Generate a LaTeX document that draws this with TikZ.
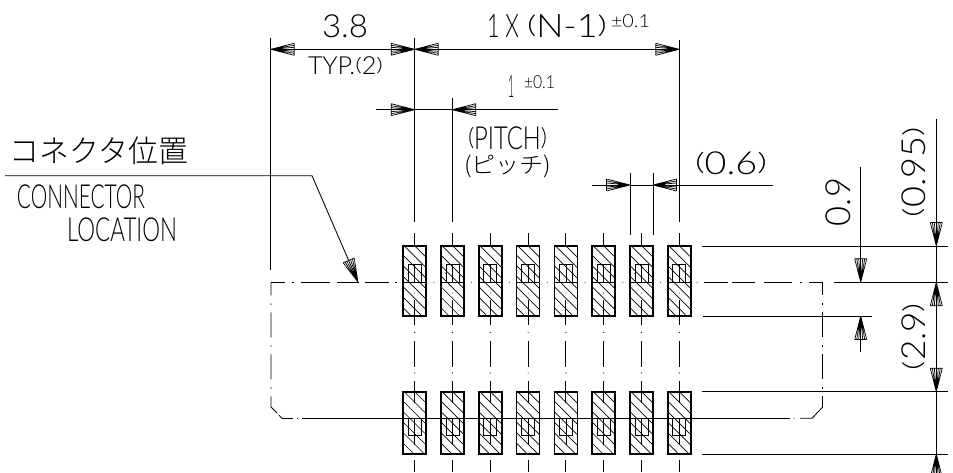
\documentclass[tikz,border=0pt]{standalone}
\usepackage{fontspec}
\usepackage{graphicx}
\usetikzlibrary{calc}
\newfontfamily\cad{Lato Light}
\newfontfamily\cadj{Noto Sans CJK JP Light}
\newcommand{\lp}{\raisebox{.135em}{\scalebox{1}[.75]{(}}}
\newcommand{\rp}{\raisebox{.135em}{\scalebox{1}[.75]{)}}}
\newcommand{\fitbox}[3]{\resizebox*{#1pt}{#2pt}{\cad\fontsize{20pt}{22pt}\selectfont #3}}
\newcommand{\fitboxj}[3]{\resizebox*{#1pt}{#2pt}{\cadj\fontsize{20pt}{22pt}\selectfont #3}}
\makeatletter
\pgfdeclarearrow{
  name=Fan,
  setup code={
    \pgfarrowssettipend{0pt}
    \pgfarrowssetlineend{-8pt}
    \pgfarrowssetvisualbackend{-23.5pt}
    \pgfarrowssetbackend{-23.5pt}
    \pgfarrowshullpoint{0pt}{0pt}
    \pgfarrowshullpoint{-23.5pt}{6pt}
    \pgfarrowshullpoint{-23.5pt}{-6pt}
  },
  drawing code={
    \pgfsetlinewidth{.7pt}
    \pgfsetdash{}{0pt}
    \pgfpathmoveto{\pgfpoint{-23.5pt}{6pt}}
    \pgfpathlineto{\pgfpoint{-23.5pt}{-6pt}}
    \pgfpathmoveto{\pgfpoint{0pt}{0pt}}\pgfpathlineto{\pgfpoint{-23.5pt}{6pt}}
    \pgfpathmoveto{\pgfpoint{0pt}{0pt}}\pgfpathlineto{\pgfpoint{-23.5pt}{4pt}}
    \pgfpathmoveto{\pgfpoint{0pt}{0pt}}\pgfpathlineto{\pgfpoint{-23.5pt}{2pt}}
    \pgfpathmoveto{\pgfpoint{0pt}{0pt}}\pgfpathlineto{\pgfpoint{-23.5pt}{-2pt}}
    \pgfpathmoveto{\pgfpoint{0pt}{0pt}}\pgfpathlineto{\pgfpoint{-23.5pt}{-4pt}}
    \pgfpathmoveto{\pgfpoint{0pt}{0pt}}\pgfpathlineto{\pgfpoint{-23.5pt}{-6pt}}
    \pgfusepathqstroke
    \pgfpathmoveto{\pgfpoint{0pt}{0pt}}
    \pgfpathlineto{\pgfpoint{-12pt}{2pt}}
    \pgfpathlineto{\pgfpoint{-12pt}{-2pt}}
    \pgfpathclose
    \pgfusepathqfill
  }
}
\makeatother
\tikzset{
  thinline/.style={line width=.85pt,black},
  midline/.style={line width=1.1pt,black},
  dim/.style={thinline,-{Fan}},
  dimboth/.style={thinline,{Fan}-{Fan}},
  padcommon/.style={draw=black,line width=1.7pt,inner sep=0pt,outer sep=0pt,minimum width=23pt,
    path picture={
      \foreach \c in {-22,-11.5,...,73}
        \draw[line width=.7pt] ($(path picture bounding box.north west)+(0,\c)$) -- +(90,90);
    }},
  padtop/.style={padcommon,minimum height=70.5pt},
  padbot/.style={padcommon,minimum height=62.6pt},
  lab/.style={inner sep=0pt,outer sep=0pt,black},
  chain/.style={thinline,dash pattern=on 25pt off 8pt on 1.5pt off 7.5pt},
}
\begin{document}
\begin{tikzpicture}[x=1pt,y=-1pt]
\clip (0,0) rectangle (953,473);
\fill[white] (0,0) rectangle (953,473);

% pads
\foreach \i in {1,...,8}{
  \pgfmathsetmacro{\cx}{414.7+37.8*(\i-1)}
  \node[padtop] (pt\i) at (\cx,281) {};
  \node[padbot] (pb\i) at (\cx,423) {};
  \draw[line width=1.2pt] (pt\i.west |- 0,282.3) -- (pt\i.east |- 0,282.3);
  \draw[line width=.8pt] (\cx-6.5,282) -- (\cx-6.5,264.5) -- (\cx+6.5,264.5) -- (\cx+6.5,282);
  \draw[line width=.8pt] (\cx,264.5) -- (\cx,282);
  \fill (\cx,293) circle (.5pt);
  \fill (\cx-7,273.5) circle (.4pt);
  \fill (\cx+7,273.5) circle (.4pt);
  \draw[line width=.8pt] (\cx-6.5,418) -- (\cx-6.5,435) -- (\cx+6.5,435) -- (\cx+6.5,418);
  \draw[line width=.8pt] (\cx,418) -- (\cx,445);
  \coordinate (sa\i) at (\cx,233);
  \coordinate (sb\i) at (\cx,300);
  \coordinate (sc\i) at (\cx,325);
  \coordinate (sd\i) at (\cx,341);
  \coordinate (se\i) at (\cx,367);
  \coordinate (sf\i) at (\cx,381);
  \coordinate (sg\i) at (\cx,403);
  \coordinate (sh\i) at (\cx,460);
  \coordinate (si\i) at (\cx,472);
  \draw[thinline] (sa\i) -- (pt\i.north);
  \draw[thinline] (sb\i) -- (sc\i);
  \draw[thinline] (sd\i) -- (se\i);
  \draw[thinline] (sf\i) -- (sg\i);
  \draw[thinline] (sh\i) -- (si\i);
  \fill (\cx,332.5) circle (.6pt);
  \fill (\cx,373) circle (.6pt);
  \pgfmathsetmacro{\gx}{396+37.8*(\i-1)}
  \fill (\gx,282.3) circle (.5pt);
}
\fill (697,282.3) circle (.5pt);

% outline of the connector (chain line)
\coordinate (tl) at (271,282.3);
\coordinate (tlend) at (397,282.3);
\coordinate (trs) at (704,282.3);
\coordinate (tr) at (822.7,282.3);
\coordinate (lb) at (271,407);
\coordinate (rb) at (822.7,407);
\coordinate (lbc) at (282,418.3);
\coordinate (rbc) at (812,418.3);
\coordinate (lba) at (277,413);
\draw[thinline,dash pattern=on 14pt off 7pt on 2pt off 7pt on 29pt off 7pt on 22pt off 6pt on 24pt off 6pt on 2pt off 100pt] (tl) -- (tlend);
\draw[thinline,dash pattern=on 24pt off 4pt on 23pt off 9pt on 28pt off 8pt on 1.5pt off 7.5pt on 20pt] (trs) -- (tr);
\draw[chain,dash phase=12pt] (tl) -- (lb) -- (lba);
\draw[chain,dash phase=12pt] (tr) -- (rb);
\draw[line width=1.2pt] (pb1.west |- 0,418.3) -- (790,418.3);
\draw[thinline] (lbc) -- (293,418.3);
\draw[thinline] (302,418.3) -- (pb1.west |- 0,418.3);
\fill (297.5,418.3) circle (.5pt);
\fill (794,418.3) circle (.5pt);
\draw[thinline] (279,415.3) -- (lbc);
\draw[thinline] (800,418.3) -- (rbc) -- (rb);

% extension lines
\coordinate (e1t) at (414.7,38);
\coordinate (e1b) at (414.7,222);
\coordinate (e1m) at (414.7,98);
\coordinate (e2t) at (452.3,98);
\coordinate (e2b) at (452.3,222);
\coordinate (e8t) at (679.3,40);
\coordinate (e8b) at (679.3,222.5);
\coordinate (e0t) at (270.7,38);
\coordinate (e0b) at (270.7,270);
\coordinate (e6t) at (630,173);
\coordinate (e6b) at (630,235);
\coordinate (e7t) at (653,173);
\coordinate (e7b) at (653,235);
\draw[thinline] (e0t) -- (e0b);
\draw[thinline] (e1t) -- (e1m);
\draw[midline] (e1m) -- (e1b);
\draw[thinline] (e2t) -- (e2b);
\draw[thinline] (e8t) -- (e8b);
\draw[thinline] (e6t) -- (e6b);
\draw[thinline] (e7t) -- (e7b);

% horizontal dimensions
\coordinate (d1a) at (270.7,49.3);
\coordinate (d1b) at (414.7,49.3);
\coordinate (d1c) at (679.3,49.3);
\draw[dimboth] (d1a) -- (d1b);
\draw[dimboth] (d1b) -- (d1c);
\coordinate (d2a) at (376,109.7);
\coordinate (d2b) at (414.7,109.7);
\coordinate (d2c) at (452.3,109.7);
\coordinate (d2d) at (558,109.7);
\draw[dim] (d2a) -- (d2b);
\draw[dim] (d2d) -- (d2c);
\draw[thinline] (d2b) -- (d2c);
\coordinate (d3a) at (592,185);
\coordinate (d3b) at (630,185);
\coordinate (d3c) at (653,185);
\coordinate (d3d) at (773,185);
\draw[dim] (d3a) -- (d3b);
\draw[dim] (d3d) -- (d3c);
\draw[thinline] (d3b) -- (d3c);

% horizontal reference lines on the right
\coordinate (r1a) at (702,246);   \coordinate (r1b) at (948,246);
\coordinate (r2a) at (834,282.3); \coordinate (r2b) at (948,282.3);
\coordinate (r3a) at (703,316);   \coordinate (r3b) at (872,316);
\coordinate (r4a) at (702,391.7); \coordinate (r4b) at (948,391.7);
\coordinate (r5a) at (702,454);   \coordinate (r5b) at (948,454);
\draw[thinline] (r1a) -- (r1b);
\draw[midline] (r2a) -- (r2b);
\draw[thinline] (r3a) -- (r3b);
\draw[thinline] (r4a) -- (r4b);
\draw[thinline] (r5a) -- (r5b);

% vertical dimensions
\coordinate (v1a) at (860.7,167);
\coordinate (v1b) at (860.7,282.3);
\coordinate (v1c) at (860.7,316);
\coordinate (v1d) at (860.7,352);
\draw[dim] (v1a) -- (v1b);
\draw[dim] (v1d) -- (v1c);
\coordinate (v2a) at (936.3,119);
\coordinate (v2b) at (936.3,246);
\coordinate (v2c) at (936.3,282.3);
\coordinate (v2d) at (936.3,391.7);
\coordinate (v2e) at (936.3,454);
\coordinate (v2f) at (936.3,480);
\draw[dim] (v2a) -- (v2b);
\draw[thinline] (v2b) -- (v2c);
\draw[dimboth] (v2c) -- (v2d);
\draw[thinline] (v2d) -- (v2e);
\draw[dim] (v2f) -- (v2e);

% leader
\coordinate (la) at (5,175.7);
\coordinate (lk) at (312,175.7);
\coordinate (lc) at (358,282);
\draw[dim] (la) -- (lk) -- (lc);

% texts
\node[lab] (t38) at (345,26.5) {\fitbox{46}{23}{3.8}};
\node[lab] (ttyp) at (345.5,66) {\fitbox{75}{18}{TYP.\lp2\rp}};
\node[lab] (tn1) at (503,26.5) {\fitbox{32}{23}{1 X}};
\node[lab] (tn2) at (567,26.5) {\fitbox{80}{23}{\lp N-1\rp}};
\node[lab] (tnt) at (630.5,21) {\fitbox{39}{13}{±0.1}};
\node[lab] (tp1) at (511,87) {\fitbox{6}{22}{1}};
\node[lab] (tpt) at (539.5,82) {\fitbox{31}{13}{±0.1}};
\node[lab] (tpitch) at (507.5,138.5) {\fitbox{79}{23}{\lp PITCH\rp}};
\node[lab] (tpj) at (507.5,166.5) {\fitboxj{87}{23}{(ピッチ)}};
\node[lab] (t06) at (731,163.5) {\fitbox{72}{23}{\lp 0.6\rp}};
\node[lab,rotate=90] (t09) at (838.5,202) {\fitbox{48}{25}{0.9}};
\node[lab,rotate=90] (t095) at (914,172) {\fitbox{90}{24}{\lp 0.95\rp}};
\node[lab,rotate=90] (t29) at (914,336.5) {\fitbox{67}{24}{\lp 2.9\rp}};
\node[lab] (tjp) at (99,151) {\fitboxj{178}{28}{コネクタ位置}};
\node[lab] (tc) at (81,197) {\fitbox{128}{24}{CONNECTOR}};
\node[lab] (tl2) at (122,230) {\fitbox{110}{24}{LOCATION}};
\end{tikzpicture}
\end{document}
